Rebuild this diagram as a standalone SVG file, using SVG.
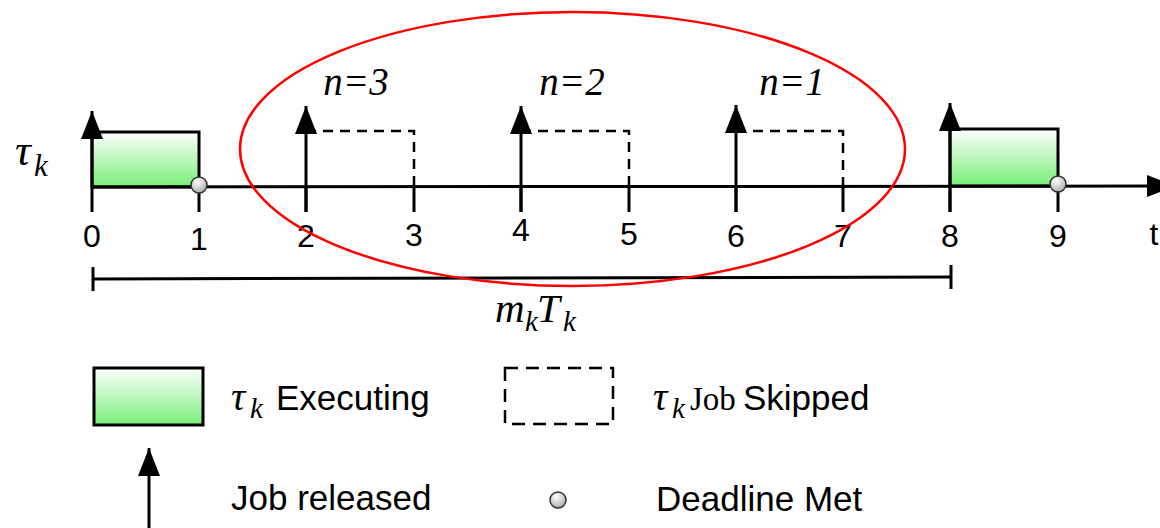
<svg xmlns="http://www.w3.org/2000/svg" width="1160" height="528" viewBox="0 0 1160 528">
  <style>
    .ln { stroke: #000; stroke-width: 3; fill: none; }
    .tick { stroke: #000; stroke-width: 3; }
    .exec { fill: url(#greenFill); stroke: #000; stroke-width: 3; }
    .skip { fill: none; stroke: #000; stroke-width: 2.5; stroke-dasharray: 10 7; }
    .dl { fill: url(#dotFill); stroke: #333; stroke-width: 1.5; }
    .num { font-family: "Liberation Sans", Arial, sans-serif; font-size: 32px; fill: #000; text-anchor: middle; }
    .lbl { font-family: "Liberation Sans", Arial, sans-serif; font-size: 35px; fill: #000; }
    .math { font-family: "Liberation Serif", "Times New Roman", serif; font-style: italic; fill: #000; }
    .roman { font-family: "Liberation Serif", "Times New Roman", serif; fill: #000; }
  </style>
  <defs>
    <linearGradient id="greenFill" x1="0" y1="0" x2="0" y2="1">
      <stop offset="0" stop-color="#ffffff"/>
      <stop offset="1" stop-color="#78ee78"/>
    </linearGradient>
    <radialGradient id="dotFill" cx="0.4" cy="0.3" r="0.75">
      <stop offset="0" stop-color="#ffffff"/>
      <stop offset="1" stop-color="#a8a8a8"/>
    </radialGradient>
    <marker id="head" viewBox="0 0 28 22" refX="28" refY="11" markerWidth="28" markerHeight="22" markerUnits="userSpaceOnUse" orient="auto">
      <path d="M0,0 L28,11 L0,22 z" fill="#000"/>
    </marker>
  </defs>

  <!-- task label -->
  <g id="task-label">
    <text class="math" x="15" y="165" font-size="44">τ</text>
    <text class="math" x="34" y="176" font-size="31">k</text>
  </g>

  <!-- executed jobs -->
  <g id="job-0">
    <rect class="exec" x="92" y="132" width="107" height="55"/>
  </g>
  <g id="job-8">
    <rect class="exec" x="950" y="129" width="108" height="57"/>
  </g>

  <!-- skipped jobs -->
  <g id="job-2">
    <path class="skip" d="M306,131 H414 V187"/>
    <text class="math" x="356" y="95" font-size="39" text-anchor="middle">n=3</text>
  </g>
  <g id="job-4">
    <path class="skip" d="M521,131 H629 V187"/>
    <text class="math" x="572" y="95" font-size="39" text-anchor="middle">n=2</text>
  </g>
  <g id="job-6">
    <path class="skip" d="M736,131 H843 V187"/>
    <text class="math" x="792" y="95" font-size="39" text-anchor="middle">n=1</text>
  </g>

  <!-- time axis, ticks and releases -->
  <g id="connectors">
    <line class="ln" x1="92" y1="187" x2="1175" y2="186" marker-end="url(#head)"/>
    <g id="ticks">
      <line class="tick" x1="199" y1="187" x2="199" y2="212"/>
      <line class="tick" x1="306" y1="187" x2="306" y2="212"/>
      <line class="tick" x1="414" y1="187" x2="414" y2="212"/>
      <line class="tick" x1="521" y1="187" x2="521" y2="212"/>
      <line class="tick" x1="629" y1="187" x2="629" y2="212"/>
      <line class="tick" x1="736" y1="187" x2="736" y2="212"/>
      <line class="tick" x1="843" y1="187" x2="843" y2="212"/>
      <line class="tick" x1="950" y1="187" x2="950" y2="212"/>
      <line class="tick" x1="1058" y1="186" x2="1058" y2="212"/>
    </g>
    <g id="releases">
      <line class="ln" x1="92" y1="212" x2="92" y2="111" marker-end="url(#head)"/>
      <line class="ln" x1="306" y1="212" x2="306" y2="106" marker-end="url(#head)"/>
      <line class="ln" x1="521" y1="212" x2="521" y2="106" marker-end="url(#head)"/>
      <line class="ln" x1="736" y1="212" x2="736" y2="105" marker-end="url(#head)"/>
      <line class="ln" x1="950" y1="212" x2="950" y2="103" marker-end="url(#head)"/>
    </g>
    <!-- window bracket -->
    <g id="window">
      <line class="ln" x1="93" y1="279" x2="951" y2="277"/>
      <line class="ln" x1="93" y1="267" x2="93" y2="291"/>
      <line class="ln" x1="951" y1="265" x2="951" y2="289"/>
    </g>
  </g>

  <!-- deadlines -->
  <g id="deadlines">
    <circle class="dl" cx="199" cy="185" r="8"/>
    <circle class="dl" cx="1058" cy="184" r="8"/>
  </g>

  <!-- time labels -->
  <g id="time-labels">
    <text class="num" x="92" y="247">0</text>
    <text class="num" x="199" y="250">1</text>
    <text class="num" x="306" y="247">2</text>
    <text class="num" x="414" y="246">3</text>
    <text class="num" x="521" y="241">4</text>
    <text class="num" x="629" y="245">5</text>
    <text class="num" x="736" y="247">6</text>
    <text class="num" x="843" y="247">7</text>
    <text class="num" x="950" y="247">8</text>
    <text class="num" x="1058" y="247">9</text>
    <text class="num" x="1154" y="245">t</text>
  </g>

  <!-- window label -->
  <g id="window-label">
    <text class="math" x="495" y="322" font-size="41">m</text>
    <text class="math" x="525" y="331" font-size="29">k</text>
    <text class="math" x="537" y="322" font-size="41">T</text>
    <text class="math" x="563" y="331" font-size="29">k</text>
  </g>

  <!-- skipped-job region -->
  <g id="skip-region">
    <ellipse cx="572.5" cy="149" rx="332.5" ry="137" fill="none" stroke="#ff0000" stroke-width="2.5"/>
  </g>

  <!-- legend -->
  <g id="legend-exec">
    <rect class="exec" x="94" y="368" width="109" height="57"/>
    <text class="math" x="231" y="410" font-size="40">τ</text>
    <text class="math" x="250" y="418" font-size="29">k</text>
    <text class="lbl" x="276" y="410">Executing</text>
  </g>
  <g id="legend-skip">
    <rect x="505" y="368" width="108" height="56" fill="none" stroke="#000" stroke-width="2.5" stroke-dasharray="13 8"/>
    <text class="math" x="653" y="410" font-size="40">τ</text>
    <text class="math" x="672" y="418" font-size="29">k</text>
    <text class="roman" x="690" y="410" font-size="33">Job</text>
    <text class="lbl" x="743" y="410">Skipped</text>
  </g>
  <g id="legend-release">
    <line class="ln" x1="149" y1="528" x2="149" y2="448" stroke-width="2.5" marker-end="url(#head)"/>
    <text class="lbl" x="231" y="510">Job released</text>
  </g>
  <g id="legend-deadline">
    <circle class="dl" cx="558" cy="500" r="8"/>
    <text class="lbl" x="656" y="511">Deadline Met</text>
  </g>
</svg>
